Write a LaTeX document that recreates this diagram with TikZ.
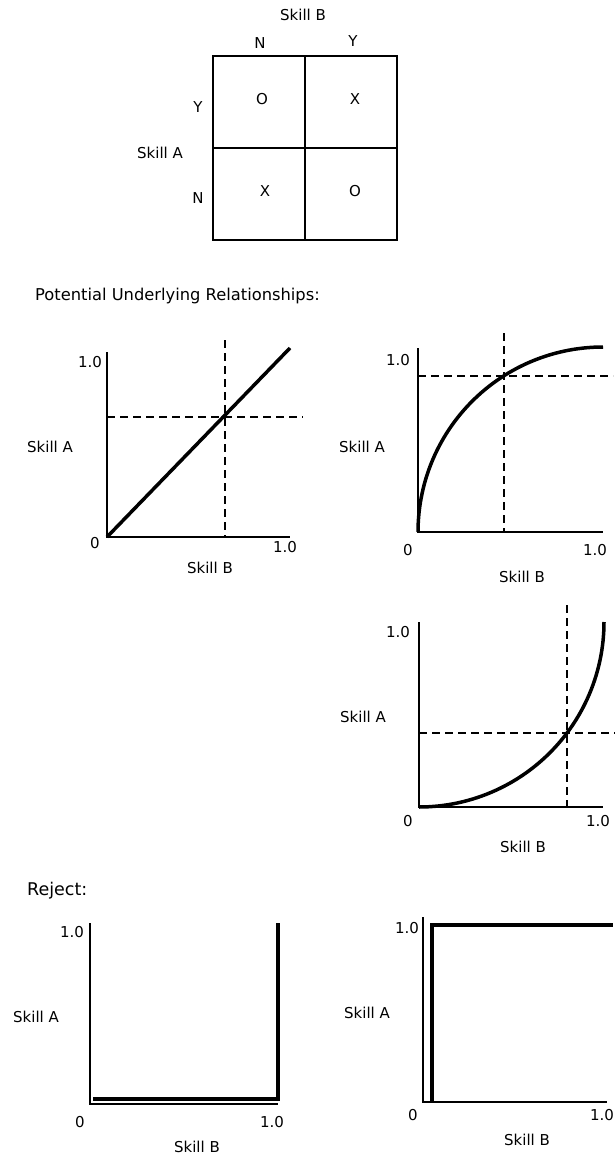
\documentclass[tikz,border=0pt]{standalone}
\usepackage{fontspec}
\setmainfont{DejaVu Sans}
\usepackage{tikz}
\usetikzlibrary{positioning}

\begin{document}
\begin{tikzpicture}[
x=1pt,y=-1pt,
lbl/.style={inner sep=0pt,font=\fontsize{15}{17}\selectfont},
head/.style={inner sep=0pt,anchor=base west,font=\fontsize{16.3}{19}\selectfont},
box/.style={line width=1.5pt},
axis/.style={line width=1.3pt},
curve/.style={line width=3.5pt},
guide/.style={line width=1.3pt,dash pattern=on 8pt off 5pt}
]
\useasboundingbox (0,0) rectangle (615,1155);

% 2x2 table
\draw[box] (213,56) rectangle (397,240);
\draw[box] (213,148) -- (397,148);
\draw[line width=2.2pt] (305,56) -- (305,240);
\node[lbl] (tabB) at (303,15) {Skill B};
\node[lbl] (colN) at (260,43) {N};
\node[lbl] (colY) at (353,41) {Y};
\node[lbl] (tabA) at (160,153) {Skill A};
\node[lbl] (rowY) at (198,107) {Y};
\node[lbl] (rowN) at (198,198) {N};
\node[lbl] (cellYN) at (262,99) {O};
\node[lbl] (cellYY) at (355,99) {X};
\node[lbl] (cellNN) at (265,191) {X};
\node[lbl] (cellNY) at (355,191) {O};

\node[head] (potential) at (35,301) {Potential Underlying Relationships:};

% linear
\draw[axis] (107,352) -- (107,537) -- (290,537);
\draw[guide] (107,417) -- (303,417);
\draw[guide] (225,340) -- (225,537);
\draw[curve] (107,537) -- (290,348);
\node[lbl] (linTop) at (90,362) {1.0};
\node[lbl] (linA) at (50,447) {Skill A};
\node[lbl] (linZero) at (95,543) {0};
\node[lbl] (linEnd) at (285,547) {1.0};
\node[lbl] (linB) at (210,568) {Skill B};

% concave
\draw[axis] (418,348) -- (418,532) -- (603,532);
\draw[guide] (418,376) -- (613,376);
\draw[guide] (504,333) -- (504,532);
\draw[curve] plot[domain=180:270,samples=60] ({603+185*cos(\x)},{532+185*sin(\x)});
\node[lbl] (cavTop) at (398,360) {1.0};
\node[lbl] (cavA) at (362,447) {Skill A};
\node[lbl] (cavZero) at (408,550) {0};
\node[lbl] (cavEnd) at (595,550) {1.0};
\node[lbl] (cavB) at (522,577) {Skill B};

% convex
\draw[axis] (419,622) -- (419,807) -- (603,807);
\draw[guide] (419,733) -- (615,733);
\draw[guide] (567,605) -- (567,807);
\draw[curve] plot[domain=90:0,samples=60] ({419+185*cos(\x)},{622+185*sin(\x)});
\node[lbl] (vexTop) at (398,632) {1.0};
\node[lbl] (vexA) at (363,717) {Skill A};
\node[lbl] (vexZero) at (408,821) {0};
\node[lbl] (vexEnd) at (598,821) {1.0};
\node[lbl] (vexB) at (523,847) {Skill B};

\node[head,font=\fontsize{17.5}{20}\selectfont] (reject) at (27,895) {Reject:};

% reject, low A
\draw[axis] (90,923) -- (90,1104) -- (278,1104);
\draw[curve] (93,1099) -- (278,1099) -- (278,923);
\node[lbl] (lowTop) at (72,932) {1.0};
\node[lbl] (lowA) at (36,1017) {Skill A};
\node[lbl] (lowZero) at (80,1122) {0};
\node[lbl] (lowEnd) at (272,1122) {1.0};
\node[lbl] (lowB) at (197,1147) {Skill B};

% reject, high A
\draw[axis] (423,917) -- (423,1102) -- (607,1102);
\draw[curve] (432,1102) -- (432,925) -- (613,925);
\node[lbl] (highTop) at (407,928) {1.0};
\node[lbl] (highA) at (367,1013) {Skill A};
\node[lbl] (highZero) at (413,1115) {0};
\node[lbl] (highEnd) at (602,1115) {1.0};
\node[lbl] (highB) at (527,1140) {Skill B};
\end{tikzpicture}
\end{document}
